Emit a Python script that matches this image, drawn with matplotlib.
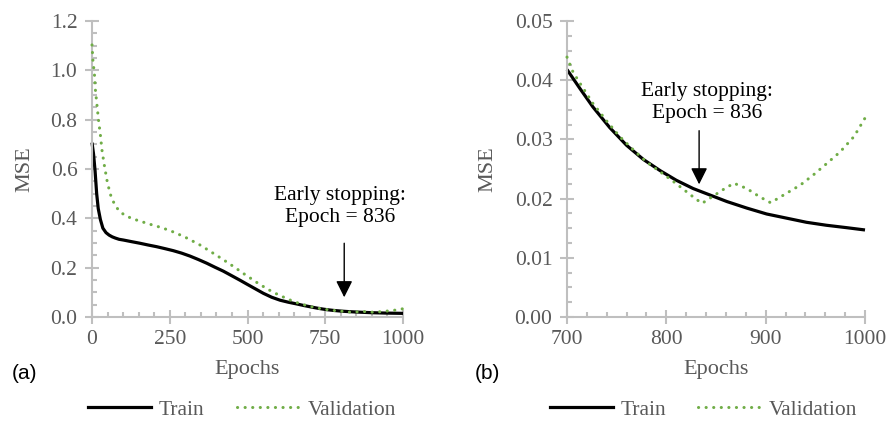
import matplotlib
matplotlib.use("Agg")
import matplotlib.pyplot as plt
from matplotlib.ticker import MultipleLocator, FormatStrFormatter
from matplotlib.lines import Line2D

# ---------------- data ----------------
# Epochs 0-699
train_early_epochs = [0, 5, 10, 15, 20, 27, 35, 45, 55, 65, 75, 87, 101, 125, 154, 180,
                      208, 235, 261, 288, 315, 342, 369, 395, 422, 444, 476, 497, 524,
                      551, 578, 605, 631, 658, 680]
train_early_mse = [0.707, 0.660, 0.590, 0.500, 0.440, 0.395, 0.360, 0.342, 0.332, 0.325,
                   0.320, 0.315, 0.312, 0.306, 0.299, 0.292, 0.285, 0.277, 0.269, 0.259,
                   0.247, 0.233, 0.218, 0.202, 0.186, 0.171, 0.149, 0.134, 0.115, 0.096,
                   0.080, 0.068, 0.060, 0.053, 0.0468]

val_early_epochs = [0, 3, 8, 11, 16, 21, 27, 32, 39, 48, 58, 66, 77, 92, 111, 133, 154,
                    176, 197, 219, 240, 261, 281, 302, 320, 342, 360, 379, 399, 419, 438,
                    457, 474, 492, 510, 530, 549, 569, 588, 610, 631, 650, 672, 692]
val_early_mse = [1.103, 1.040, 0.981, 0.920, 0.859, 0.798, 0.738, 0.677, 0.620, 0.555,
                 0.501, 0.474, 0.447, 0.424, 0.409, 0.397, 0.389, 0.380, 0.372, 0.364,
                 0.355, 0.345, 0.334, 0.322, 0.310, 0.296, 0.282, 0.267, 0.251, 0.235,
                 0.219, 0.203, 0.188, 0.172, 0.157, 0.140, 0.125, 0.110, 0.097, 0.084,
                 0.072, 0.062, 0.053, 0.046]

# Epochs 700-1000
train_late_epochs = [700, 713, 726, 743, 760, 777, 794, 810, 827, 844, 861, 881, 901, 921,
                     941, 961, 981, 1000]
train_late_mse = [0.0418, 0.0386, 0.0355, 0.0320, 0.0290, 0.0266, 0.0247, 0.0231, 0.0217,
                  0.0206, 0.0195, 0.0184, 0.0174, 0.0167, 0.0160, 0.0155, 0.0151, 0.0147]

val_late_epochs = [700, 706, 713, 726, 740, 753, 767, 780, 794, 807, 820, 830, 836, 847,
                   857, 868, 881, 894, 905, 921, 935, 948, 962, 975, 989, 1000]
val_late_mse = [0.0439, 0.0414, 0.0395, 0.0361, 0.0331, 0.0305, 0.0282, 0.0262, 0.0245,
                0.0229, 0.0212, 0.0199, 0.0192, 0.0204, 0.0215, 0.0226, 0.0217, 0.0203,
                0.0193, 0.0209, 0.0223, 0.0240, 0.0260, 0.0279, 0.0305, 0.0336]

series_labels = ["Train", "Validation"]
annotation_text = "Early stopping:\nEpoch = 836"
panel_labels = ["(a)", "(b)"]

# ---------------- style ----------------
SERIF = "Liberation Serif"
SANS = "Liberation Sans"
GRAY_TXT = "#595959"
AXIS_GRAY = "#BFBFBF"
GREEN = "#70AD47"
FS = 15.5
DOT = (0, (0.05, 2.43))
LW_T = 2.3
LW_V = 2.2

fig = plt.figure(figsize=(8.89, 4.23), dpi=100)
W, H = 889.0, 423.0


def axrect(x0, x1, ytop, ybot):
    return [x0 / W, 1 - ybot / H, (x1 - x0) / W, (ybot - ytop) / H]


ax_a = fig.add_axes(axrect(92, 403, 21, 317))
ax_b = fig.add_axes(axrect(567, 865, 21, 317))


def style_axes(ax, xlim, ylim, xmaj, xmin, ymaj, ymin, yfmt):
    ax.set_xlim(*xlim)
    ax.set_ylim(*ylim)
    for s in ("top", "right"):
        ax.spines[s].set_visible(False)
    for s in ("left", "bottom"):
        ax.spines[s].set_color(AXIS_GRAY)
        ax.spines[s].set_linewidth(1.5)
    ax.xaxis.set_major_locator(MultipleLocator(xmaj))
    ax.xaxis.set_minor_locator(MultipleLocator(xmin))
    ax.yaxis.set_major_locator(MultipleLocator(ymaj))
    ax.yaxis.set_minor_locator(MultipleLocator(ymin))
    ax.yaxis.set_major_formatter(FormatStrFormatter(yfmt))
    ax.tick_params(which="major", direction="inout", length=10, width=1.5,
                   color=AXIS_GRAY, labelcolor=GRAY_TXT, labelsize=FS)
    ax.tick_params(which="minor", direction="in", length=3.6, width=1.5,
                   color=AXIS_GRAY)
    ax.tick_params(axis="y", which="major", pad=5.5)
    ax.tick_params(axis="x", which="major", pad=4.5)
    for lab in ax.get_xticklabels() + ax.get_yticklabels():
        lab.set_fontfamily(SERIF)
    ax.set_xlabel("Epochs", fontfamily=SERIF, fontsize=FS + 0.5, color=GRAY_TXT)
    ax.set_ylabel("MSE", fontfamily=SERIF, fontsize=FS + 0.5, color=GRAY_TXT)
    ax.xaxis.set_label_coords(0.5, -0.145)


style_axes(ax_a, (0, 1000), (0, 1.2), 250, 50, 0.2, 0.05, "%.1f")
style_axes(ax_b, (700, 1000), (0, 0.05), 100, 20, 0.01, 0.0025, "%.2f")
ax_a.yaxis.set_label_coords(-0.185, 0.5)
ax_b.yaxis.set_label_coords(-0.232, 0.5)

train_all_epochs = train_early_epochs + train_late_epochs
train_all_mse = train_early_mse + train_late_mse
val_all_epochs = val_early_epochs + val_late_epochs
val_all_mse = val_early_mse + val_late_mse

for ax, te, tv, ve, vv in ((ax_a, train_all_epochs, train_all_mse, val_all_epochs, val_all_mse),
                           (ax_b, train_late_epochs, train_late_mse, val_late_epochs, val_late_mse)):
    ax.plot(te, tv, color="black", lw=LW_T, solid_joinstyle="round",
            solid_capstyle="butt", clip_on=False, zorder=2)
    ax.plot(ve, vv, color=GREEN, lw=LW_V, linestyle=DOT, dash_capstyle="round",
            clip_on=False, zorder=3)

arrow_style = "-|>,head_length=1.0,head_width=0.5"
# panel (a) annotation
ax_a.text(797, 0.366, annotation_text, ha="center", va="bottom",
          fontfamily=SERIF, fontsize=FS, color="black", linespacing=1.2)
ax_a.annotate("", xy=(811, 0.080), xytext=(811, 0.299),
              arrowprops=dict(arrowstyle=arrow_style, color="black", lw=1.0,
                              shrinkA=0, shrinkB=0, mutation_scale=10))
# panel (b) annotation
ax_b.text(841, 0.03284, annotation_text, ha="center", va="bottom",
          fontfamily=SERIF, fontsize=FS, color="black", linespacing=1.2)
ax_b.annotate("", xy=(833, 0.02241), xytext=(833, 0.03147),
              arrowprops=dict(arrowstyle=arrow_style, color="black", lw=1.0,
                              shrinkA=0, shrinkB=0, mutation_scale=10))

# panel labels
fig.text(24.5 / W, 1 - 373 / H, panel_labels[0], ha="center", va="center",
         fontfamily=SANS, fontsize=15, color="black")
fig.text(487.5 / W, 1 - 373 / H, panel_labels[1], ha="center", va="center",
         fontfamily=SANS, fontsize=15, color="black")

# legends
handles = [Line2D([], [], color="black", lw=LW_T),
           Line2D([], [], color=GREEN, lw=LW_V, linestyle=DOT, dash_capstyle="round")]
for cx in (242, 703.5):
    fig.legend(handles, series_labels, loc="center", ncol=2,
               bbox_to_anchor=(cx / W, 1 - 410 / H), frameon=False,
               handlelength=2.93, handletextpad=0.35, columnspacing=1.5,
               borderpad=0.0, borderaxespad=0.0,
               prop={"family": SERIF, "size": FS}, labelcolor=GRAY_TXT)

fig.savefig("out.png", dpi=100)
